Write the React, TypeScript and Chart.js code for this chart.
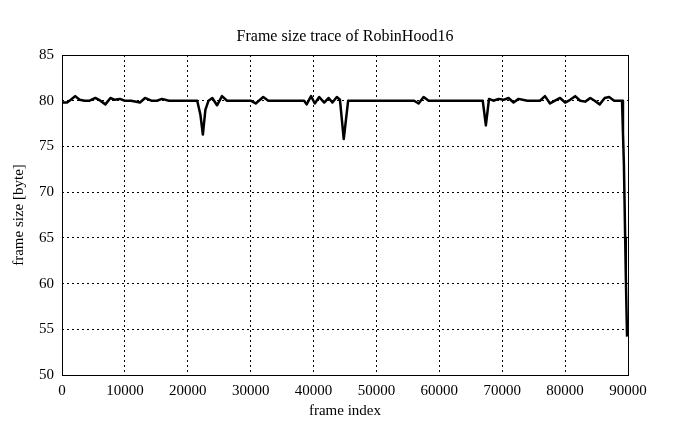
import React, { useEffect, useRef } from "react";
import { Chart, registerables } from "chart.js";

Chart.register(...registerables);

const TITLE = "Frame size trace of RobinHood16";
const X_LABEL = "frame index";
const Y_LABEL = "frame size [byte]";

const X_TICKS = [0, 10000, 20000, 30000, 40000, 50000, 60000, 70000, 80000, 90000];
const Y_TICKS = [50, 55, 60, 65, 70, 75, 80, 85];

const frames = [
  0, 800, 1400, 2100, 2800, 3600, 4400, 5300, 6100, 6900, 7700, 8400, 9200,
  10000, 11000, 12400, 13200, 14200, 15100, 15900, 17000, 18500, 20000, 21500,
  22000, 22400, 22800, 23300, 23900, 24650, 25440, 26240, 27500, 29000, 30000,
  30800, 32000, 32800, 34500, 36500, 38500, 38900, 39600, 40200, 40900, 41700,
  42400, 43000, 43700, 44200, 44800, 45500, 46500, 48500, 50000, 52000, 54000,
  56000, 56700, 57500, 58300, 60000, 62000, 64000, 66000, 66900, 67400, 67900,
  68600, 69400, 70200, 71000, 71800, 72600, 74000, 76000, 76800, 77600, 78400,
  79200, 80000, 80800, 81600, 82400, 83200, 84000, 84700, 85500, 86300, 87000,
  87800, 88500, 89050, 89200, 89350, 89450, 89550, 89650, 89750, 89850,
];

const sizes = [
  79.8, 79.8, 80.1, 80.5, 80.1, 80.0, 80.0, 80.3, 80.0, 79.6, 80.3, 80.1, 80.2,
  80.0, 80.0, 79.8, 80.3, 80.0, 80.0, 80.2, 80.0, 80.0, 80.0, 80.0,
  78.5, 76.3, 79.0, 80.0, 80.3, 79.5, 80.5, 80.0, 80.0, 80.0, 80.0,
  79.7, 80.4, 80.0, 80.0, 80.0, 80.0, 79.6, 80.5, 79.7, 80.4, 79.8,
  80.3, 79.8, 80.4, 80.1, 75.8, 80.0, 80.0, 80.0, 80.0, 80.0, 80.0,
  80.0, 79.7, 80.4, 80.0, 80.0, 80.0, 80.0, 80.0, 80.0, 77.3, 80.2,
  80.0, 80.2, 80.1, 80.3, 79.8, 80.2, 80.0, 80.0, 80.5, 79.7, 80.0,
  80.3, 79.8, 80.1, 80.5, 80.0, 79.9, 80.3, 80.0, 79.6, 80.3, 80.4,
  80.0, 80.0, 80.0, 76.5, 73.0, 69.0, 65.0, 61.0, 57.5, 54.2,
];

const FONT = "'Liberation Serif', 'DejaVu Serif', serif";

export default function App() {
  const ref = useRef<HTMLCanvasElement | null>(null);

  useEffect(() => {
    if (!ref.current) return;
    const framePlugin = {
      id: "framePlugin",
      afterDraw(chart: any) {
        const { ctx, chartArea } = chart;
        ctx.save();
        ctx.strokeStyle = "#000";
        ctx.lineWidth = 1;
        ctx.strokeRect(
          Math.round(chartArea.left) + 0.5,
          Math.round(chartArea.top) + 0.5,
          Math.round(chartArea.right - chartArea.left),
          Math.round(chartArea.bottom - chartArea.top)
        );
        ctx.fillStyle = "#000";
        ctx.font = `16px ${FONT}`;
        ctx.textAlign = "center";
        ctx.textBaseline = "middle";
        ctx.fillText(TITLE, (chartArea.left + chartArea.right) / 2, 37);
        ctx.restore();
      },
    };

    const chart = new Chart(ref.current, {
      type: "line",
      data: {
        datasets: [
          {
            data: frames.map((f, i) => ({ x: f, y: sizes[i] })),
            borderColor: "#000",
            borderWidth: 2.5,
            borderJoinStyle: "round",
            pointRadius: 0,
            tension: 0,
            fill: false,
          },
        ],
      },
      options: {
        animation: false,
        responsive: false,
        maintainAspectRatio: false,
        layout: { padding: { top: 55, right: 67, bottom: 0, left: 0 } },
        plugins: {
          legend: { display: false },
          tooltip: { enabled: false },
          title: { display: false },
        },
        scales: {
          x: {
            type: "linear",
            min: 0,
            max: 90000,
            afterFit: (s: any) => {
              s.height = 54;
            },
            afterBuildTicks: (s: any) => {
              s.ticks = X_TICKS.map((v) => ({ value: v }));
            },
            ticks: {
              color: "#000",
              font: { family: FONT, size: 15 },
              padding: 7,
              maxRotation: 0,
              autoSkip: false,
              callback: (v: any) => String(v),
            },
            grid: { color: "#000", lineWidth: 1, drawTicks: false },
            border: { display: false, dash: [2, 3] },
            title: {
              display: true,
              text: X_LABEL,
              color: "#000",
              font: { family: FONT, size: 15 },
              padding: { top: 0, bottom: 9 },
            },
          },
          y: {
            type: "linear",
            min: 50,
            max: 85,
            afterFit: (s: any) => {
              s.width = 62;
            },
            afterBuildTicks: (s: any) => {
              s.ticks = Y_TICKS.map((v) => ({ value: v }));
            },
            ticks: {
              color: "#000",
              font: { family: FONT, size: 15 },
              padding: 8,
              callback: (v: any) => String(v),
            },
            grid: { color: "#000", lineWidth: 1, drawTicks: false },
            border: { display: false, dash: [2, 3] },
            title: {
              display: true,
              text: Y_LABEL,
              color: "#000",
              font: { family: FONT, size: 15 },
              padding: { top: 10, bottom: 0 },
            },
          },
        },
      },
      plugins: [framePlugin],
    });
    return () => chart.destroy();
  }, []);

  return (
    <div style={{ position: "fixed", left: 0, top: 0, width: 695, height: 429, background: "#fff" }}>
      <canvas ref={ref} width={695} height={429} style={{ width: 695, height: 429 }} />
    </div>
  );
}
